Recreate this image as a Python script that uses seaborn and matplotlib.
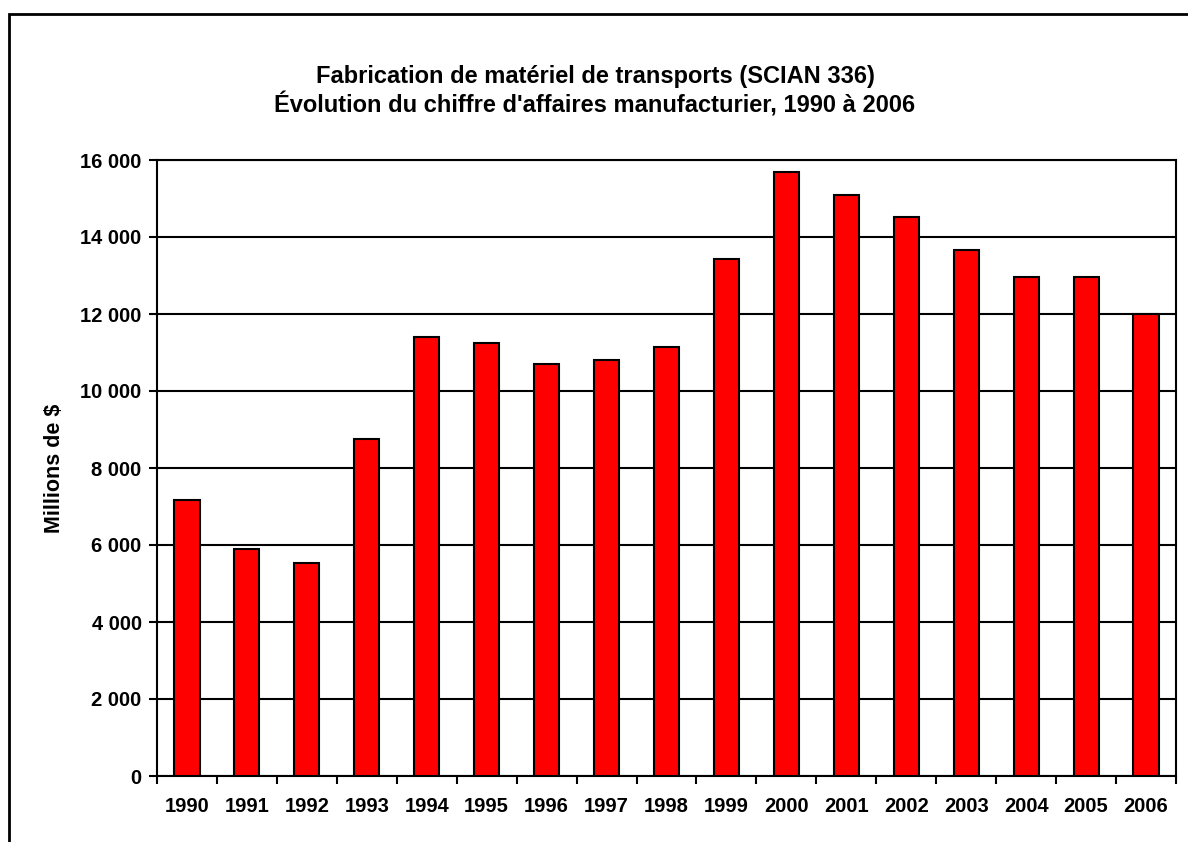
import matplotlib
matplotlib.use("Agg")
import matplotlib.pyplot as plt
import seaborn as sns
import pandas as pd
from matplotlib.patches import Rectangle
from matplotlib.ticker import FuncFormatter

years = ["1990", "1991", "1992", "1993", "1994", "1995", "1996", "1997", "1998",
         "1999", "2000", "2001", "2002", "2003", "2004", "2005", "2006"]
values = [7160, 5890, 5540, 8760, 11400, 11250, 10700, 10800, 11150,
          13430, 15690, 15090, 14530, 13670, 12960, 12960, 12000]
title_lines = ["Fabrication de matériel de transports (SCIAN 336)",
               "Évolution du chiffre d'affaires manufacturier, 1990 à 2006"]
ylabel = "Millions de $"

sns.set_theme(style="white")
plt.rcParams['font.family'] = ['Liberation Sans', 'DejaVu Sans']
plt.rcParams['text.color'] = 'black'
plt.rcParams['axes.labelcolor'] = 'black'
plt.rcParams['xtick.color'] = 'black'
plt.rcParams['ytick.color'] = 'black'

df = pd.DataFrame({"year": years, "value": values})

fig = plt.figure(figsize=(11.88, 8.42), dpi=100)
W, H = 1188, 842
ax = fig.add_axes([157 / W, 1 - 776 / H, (1176 - 157) / W, (776 - 160) / H])

sns.barplot(data=df, x="year", y="value", color="#FF0000", saturation=1,
            width=0.42, edgecolor="black", linewidth=1.5, ax=ax, zorder=3)

ax.set_ylim(0, 16000)
ax.set_xlim(-0.5, len(years) - 0.5)
ax.set_yticks(range(0, 16001, 2000))
ax.yaxis.set_major_formatter(FuncFormatter(lambda v, p: f"{int(v):,}".replace(",", " ")))
ax.yaxis.grid(True, color="black", linewidth=1.5, zorder=0)
ax.set_axisbelow(True)

# x ticks: marks at category boundaries, labels at centres
ax.set_xticks([i - 0.5 for i in range(len(years) + 1)])
ax.set_xticklabels([])
ax.set_xticks(range(len(years)), minor=True)
ax.set_xticklabels(years, minor=True, fontsize=14.5, fontweight="bold", color="black")
ax.tick_params(axis="x", which="major", length=6, width=1.5, color="black", direction="out", bottom=True)
ax.tick_params(axis="x", which="minor", length=0, pad=15)
ax.tick_params(axis="y", length=6, width=1.5, color="black", direction="out", left=True,
               labelsize=14.5, pad=5, labelcolor="black")
for lbl in ax.get_yticklabels():
    lbl.set_fontweight("bold")

for s in ["left", "bottom", "right", "top"]:
    ax.spines[s].set_visible(True)
    ax.spines[s].set_color("black")
    ax.spines[s].set_linewidth(1.5)

ax.set_xlabel("")
ax.set_ylabel(ylabel, fontsize=15.5, fontweight="bold", labelpad=11, color="black")

fig.text(595 / W, 1 - 77 / H, title_lines[0], ha="center", va="center", fontsize=17, fontweight="bold")
fig.text(595 / W, 1 - 105 / H, title_lines[1], ha="center", va="center", fontsize=17, fontweight="bold")

fig.patches.append(Rectangle((9 / W, -0.05), 1.2, 1 - 14 / H + 0.05,
                             transform=fig.transFigure, fill=False, edgecolor="black",
                             linewidth=2))

fig.savefig("out.png", dpi=100, facecolor="white")
